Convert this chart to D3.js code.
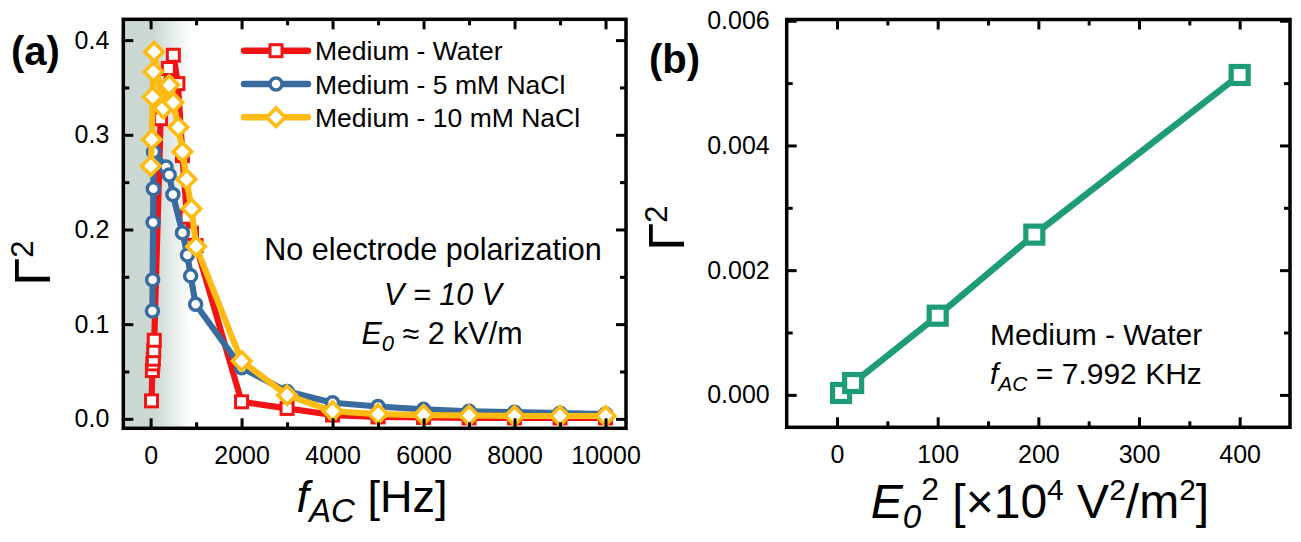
<!DOCTYPE html>
<html><head><meta charset="utf-8">
<script src="https://cdn.jsdelivr.net/npm/d3@7"></script>
<style>
body{margin:0;background:#fff}
svg{display:block}
text{font-family:"Liberation Sans",Arial,Helvetica,sans-serif;fill:#000}
</style>
</head><body>
<svg id="c" width="1301" height="542"></svg>
<script>
// ---------- data: panel (a) ----------
const seriesNames = ["Medium - Water", "Medium - 5 mM NaCl", "Medium - 10 mM NaCl"];
const freqWater = [20, 40, 50, 60, 70, 80, 220, 390, 500, 600, 700, 800, 900, 1000, 2000, 3000, 4000, 5000, 6000, 7000, 8000, 9000, 10000];
const gammaWater = [0.019, 0.051, 0.058, 0.063, 0.072, 0.083, 0.317, 0.370, 0.384, 0.354, 0.278, 0.213, 0.196, 0.183, 0.018, 0.011, 0.004, 0.002, 0.0015, 0.001, 0.001, 0.001, 0.001];
const freqNaCl5 = [40, 45, 55, 60, 65, 340, 410, 490, 700, 810, 880, 990, 2000, 3000, 4000, 5000, 6000, 7000, 8000, 9000, 10000];
const gammaNaCl5 = [0.114, 0.147, 0.2075, 0.243, 0.282, 0.266, 0.2575, 0.237, 0.1965, 0.173, 0.151, 0.121, 0.054, 0.029, 0.017, 0.013, 0.010, 0.008, 0.007, 0.006, 0.005];
const freqNaCl10 = [5, 25, 45, 60, 75, 280, 410, 500, 610, 700, 790, 900, 1000, 2000, 3000, 4000, 5000, 6000, 7000, 8000, 9000, 10000];
const gammaNaCl10 = [0.267, 0.295, 0.340, 0.3665, 0.3877, 0.328, 0.3525, 0.334, 0.308, 0.282, 0.253, 0.222, 0.182, 0.061, 0.025, 0.008, 0.005, 0.004, 0.0035, 0.003, 0.003, 0.003];
const xTicksA = [0, 2000, 4000, 6000, 8000, 10000];
const xMinorA = [1000, 3000, 5000, 7000, 9000];
const yTicksA = [0, 0.1, 0.2, 0.3, 0.4];
const yMinorA = [0.05, 0.15, 0.25, 0.35];

// ---------- data: panel (b) ----------
const e0sq = [4, 16, 100, 196, 400];
const gammaB = [0.00003, 0.00019, 0.00127, 0.00257, 0.00513];
const xTicksB = [0, 100, 200, 300, 400];
const xMinorB = [50, 150, 250, 350];
const yTicksB = [0, 0.002, 0.004, 0.006];
const yMinorB = [0.001, 0.003, 0.005];

const colors = ["#f01414", "#3a6b9f", "#fdbb14"];
const colorB = "#1e9c77";

const svg = d3.select("#c");
const defs = svg.append("defs");

function frameAxes(g, x, y, L, R, T, B, opt) {
  const tickStyle = sel => {
    sel.select(".domain").remove();
    sel.selectAll(".tick line").attr("stroke", "#000").attr("stroke-width", 3);
    sel.selectAll(".tick text").attr("font-size", opt.fs).attr("fill", "#000")
      .attr("font-family", '"Liberation Sans",Arial,sans-serif');
  };
  g.append("g").attr("transform", `translate(0,${B})`)
    .call(d3.axisBottom(x).tickValues(opt.xt).tickSize(-10).tickPadding(18).tickFormat(opt.xf)).call(tickStyle);
  g.append("g").attr("transform", `translate(0,${B})`)
    .call(d3.axisBottom(x).tickValues(opt.xm).tickSize(-6).tickFormat("")).call(tickStyle);
  g.append("g").attr("transform", `translate(0,${T})`)
    .call(d3.axisTop(x).tickValues(opt.xt).tickSize(-10).tickFormat("")).call(tickStyle);
  g.append("g").attr("transform", `translate(0,${T})`)
    .call(d3.axisTop(x).tickValues(opt.xm).tickSize(-6).tickFormat("")).call(tickStyle);
  g.append("g").attr("transform", `translate(${L},0)`)
    .call(d3.axisLeft(y).tickValues(opt.yt).tickSize(-10).tickPadding(opt.ypad).tickFormat(opt.yf)).call(tickStyle);
  g.append("g").attr("transform", `translate(${L},0)`)
    .call(d3.axisLeft(y).tickValues(opt.ym).tickSize(-6).tickFormat("")).call(tickStyle);
  g.append("g").attr("transform", `translate(${R},0)`)
    .call(d3.axisRight(y).tickValues(opt.yt).tickSize(-10).tickFormat("")).call(tickStyle);
  g.append("g").attr("transform", `translate(${R},0)`)
    .call(d3.axisRight(y).tickValues(opt.ym).tickSize(-6).tickFormat("")).call(tickStyle);
  g.append("rect").attr("x", L).attr("y", T).attr("width", R - L).attr("height", B - T)
    .attr("fill", "none").attr("stroke", "#000").attr("stroke-width", 3.5);
}

// ================= Panel (a) =================
const LA = 123.3, RA = 626, TA = 19.3, BA = 428.3;
const xA = d3.scaleLinear().domain([-600, 10450]).range([LA, RA]);
const yA = d3.scaleLinear().domain([-0.010, 0.422]).range([BA, TA]);
const gA = svg.append("g");

// shaded low-frequency region
const grad = defs.append("linearGradient").attr("id", "shade")
  .attr("gradientUnits", "userSpaceOnUse").attr("x1", LA).attr("x2", 192).attr("y1", 0).attr("y2", 0);
grad.append("stop").attr("offset", 0).attr("stop-color", "#cad8d1");
grad.append("stop").attr("offset", 0.45).attr("stop-color", "#ccd9d3");
grad.append("stop").attr("offset", 1).attr("stop-color", "#ffffff");
gA.append("rect").attr("x", LA).attr("y", TA).attr("width", 192 - LA).attr("height", BA - TA).attr("fill", "url(#shade)");

const seriesA = [
  {f: freqWater, g: gammaWater, shape: "square"},
  {f: freqNaCl5, g: gammaNaCl5, shape: "circle"},
  {f: freqNaCl10, g: gammaNaCl10, shape: "diamond"}
];

function marker(sel, shape, color) {
  if (shape === "square") {
    sel.append("rect").attr("x", -6).attr("y", -6).attr("width", 12).attr("height", 12)
      .attr("fill", "#fff").attr("stroke", color).attr("stroke-width", 3);
  } else if (shape === "circle") {
    sel.append("circle").attr("r", 6).attr("fill", "#fff").attr("stroke", color).attr("stroke-width", 3.5);
  } else {
    sel.append("path").attr("d", d3.symbol(d3.symbolSquare, 170)()).attr("transform", "rotate(45)")
      .attr("fill", "#fff").attr("stroke", color).attr("stroke-width", 3.6).attr("stroke-linejoin", "miter");
  }
}

seriesA.forEach((s, i) => {
  const pts = s.f.map((f, k) => [f, s.g[k]]);
  gA.append("path").datum(pts)
    .attr("d", d3.line().x(d => xA(d[0])).y(d => yA(d[1])))
    .attr("fill", "none").attr("stroke", colors[i]).attr("stroke-width", 6.2)
    .attr("stroke-linejoin", "round").attr("stroke-linecap", "round");
  gA.append("g").selectAll("g").data(pts).join("g")
    .attr("transform", d => `translate(${xA(d[0])},${yA(d[1])})`)
    .each(function() { marker(d3.select(this), s.shape, colors[i]); });
});

frameAxes(gA, xA, yA, LA, RA, TA, BA, {
  xt: xTicksA, xm: xMinorA, yt: yTicksA, ym: yMinorA,
  xf: d3.format("d"), yf: d3.format(".1f"), fs: 25, ypad: 14
});

// legend
const legY = [50.7, 84, 117.3];
seriesNames.forEach((name, i) => {
  const lg = gA.append("g").attr("transform", `translate(0,${legY[i]})`);
  lg.append("line").attr("x1", 244).attr("x2", 308).attr("y1", 0).attr("y2", 0)
    .attr("stroke", colors[i]).attr("stroke-width", 6.5).attr("stroke-linecap", "round");
  const m = lg.append("g").attr("transform", "translate(276,0)");
  marker(m, seriesA[i].shape, colors[i]);
  lg.append("text").attr("x", 315).attr("y", 0).attr("dy", "0.36em").attr("font-size", 26.5).text(name);
});

// annotations
gA.append("text").attr("x", 433).attr("y", 260).attr("text-anchor", "middle").attr("font-size", 30.5)
  .text("No electrode polarization");
gA.append("text").attr("x", 443).attr("y", 305).attr("text-anchor", "middle").attr("font-size", 30.5)
  .attr("font-style", "italic").text("V = 10 V");
const eT = gA.append("text").attr("x", 442).attr("y", 343.5).attr("text-anchor", "middle").attr("font-size", 30.5);
eT.append("tspan").attr("font-style", "italic").text("E");
eT.append("tspan").attr("font-style", "italic").attr("font-size", 22).attr("dy", 7).text("0");
eT.append("tspan").attr("dy", -7).text(" \u2248 2 kV/m");

// axis titles (a)
const xtA = gA.append("text").attr("x", 372).attr("y", 512).attr("text-anchor", "middle").attr("font-size", 45);
xtA.append("tspan").attr("font-style", "italic").text("f");
xtA.append("tspan").attr("font-style", "italic").attr("font-size", 33).attr("dy", 10).text("AC");
xtA.append("tspan").attr("dy", -10).text(" [Hz]");

function gammaLabel(g, x, y) {
  const t = g.append("text").attr("transform", `translate(${x},${y}) rotate(-90)`)
    .attr("text-anchor", "middle").attr("font-size", 50);
  t.append("tspan").text("\u0393");
  t.append("tspan").attr("font-size", 31).attr("dy", -17).text("2");
}
gammaLabel(gA, 50, 263);

svg.append("text").attr("x", 11).attr("y", 65).attr("font-size", 40).attr("font-weight", "bold").text("(a)");

// ================= Panel (b) =================
const LB = 786.7, RB = 1290, TB = 19.5, BB = 427.3;
const xB = d3.scaleLinear().domain([-50, 450]).range([LB, RB]);
const yB = d3.scaleLinear().domain([-0.00052, 0.00602]).range([BB, TB]);
const gB = svg.append("g");

const ptsB = e0sq.map((e, k) => [e, gammaB[k]]);
gB.append("path").datum(ptsB)
  .attr("d", d3.line().x(d => xB(d[0])).y(d => yB(d[1])))
  .attr("fill", "none").attr("stroke", colorB).attr("stroke-width", 6.5)
  .attr("stroke-linejoin", "round");
gB.append("g").selectAll("rect").data(ptsB).join("rect")
  .attr("x", d => xB(d[0]) - 8.5).attr("y", d => yB(d[1]) - 8.5)
  .attr("width", 17).attr("height", 17)
  .attr("fill", "#fff").attr("stroke", colorB).attr("stroke-width", 5.2);

frameAxes(gB, xB, yB, LB, RB, TB, BB, {
  xt: xTicksB, xm: xMinorB, yt: yTicksB, ym: yMinorB,
  xf: d3.format("d"), yf: d3.format(".3f"), fs: 25, ypad: 17
});

gB.append("text").attr("x", 990).attr("y", 345).attr("font-size", 30).text("Medium - Water");
const fT = gB.append("text").attr("x", 990).attr("y", 384).attr("font-size", 30);
fT.append("tspan").attr("font-style", "italic").text("f");
fT.append("tspan").attr("font-style", "italic").attr("font-size", 21).attr("dy", 7).text("AC");
fT.append("tspan").attr("dy", -7).text(" = 7.992 KHz");

const xtB = gB.append("text").attr("x", 1040).attr("y", 518).attr("text-anchor", "middle").attr("font-size", 48);
xtB.append("tspan").attr("font-style", "italic").text("E");
xtB.append("tspan").attr("font-style", "italic").attr("font-size", 33).attr("dy", 10).text("0");
xtB.append("tspan").attr("font-size", 32).attr("dy", -28).text("2");
xtB.append("tspan").attr("dy", 18).text(" [\u00d710");
xtB.append("tspan").attr("font-size", 30).attr("dy", -18).text("4");
xtB.append("tspan").attr("dy", 18).text(" V");
xtB.append("tspan").attr("font-size", 30).attr("dy", -18).text("2");
xtB.append("tspan").attr("dy", 18).text("/m");
xtB.append("tspan").attr("font-size", 30).attr("dy", -18).text("2");
xtB.append("tspan").attr("dy", 18).text("]");

gammaLabel(gB, 684, 228);
svg.append("text").attr("x", 649).attr("y", 73).attr("font-size", 40).attr("font-weight", "bold").text("(b)");
</script>
</body></html>
